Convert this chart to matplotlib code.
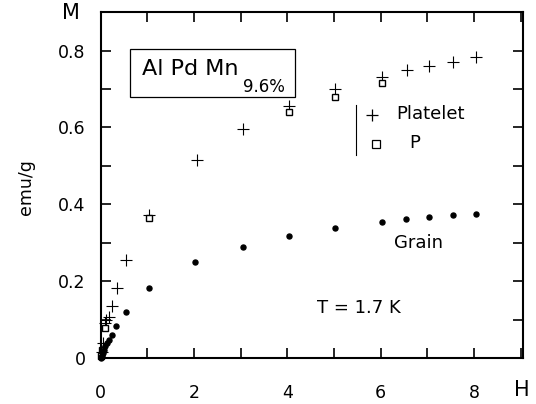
import matplotlib.pyplot as plt
import numpy as np
from matplotlib.patches import Rectangle
from matplotlib.ticker import MultipleLocator, FuncFormatter

plt.rcParams['font.family'] = ['DejaVu Sans']

# magnetisation M (emu/g) against field H
h_platelet = [0.02, 0.05, 0.1, 0.12, 0.17, 0.23, 0.35, 0.54, 1.03, 2.06, 3.05, 4.03, 5.02, 6.03, 6.57, 7.04, 7.55, 8.05]
m_platelet = [0.015, 0.04, 0.09, 0.10, 0.107, 0.135, 0.183, 0.254, 0.371, 0.514, 0.597, 0.655, 0.70, 0.73, 0.75, 0.76, 0.77, 0.782]

h_p = [0.0, 0.03, 0.1, 1.03, 4.03, 5.02, 6.03]
m_p = [0.005, 0.02, 0.078, 0.364, 0.64, 0.68, 0.715]

h_grain = [0.0, 0.01, 0.02, 0.04, 0.07, 0.1, 0.13, 0.17, 0.23, 0.32, 0.54, 1.03, 2.02, 3.05, 4.03, 5.02, 6.03, 6.55, 7.04, 7.55, 8.05]
m_grain = [0.0, 0.003, 0.006, 0.012, 0.02, 0.032, 0.038, 0.047, 0.06, 0.083, 0.119, 0.181, 0.25, 0.289, 0.317, 0.338, 0.354, 0.361, 0.367, 0.372, 0.374]

fig = plt.figure(figsize=(5.36, 4.04), dpi=100)
ax = fig.add_axes([0.188, 0.114, 0.788, 0.856])

ax.plot(h_platelet, m_platelet, linestyle='none', marker='+', color='black',
        markersize=8, markeredgewidth=0.8, clip_on=False)
ax.plot(h_p, m_p, linestyle='none', marker='s', color='black', markerfacecolor='white',
        markersize=5, markeredgewidth=1.0, clip_on=False)
ax.plot(h_grain, m_grain, linestyle='none', marker='o', color='black',
        markersize=3.6, clip_on=False)

ax.set_xlim(0, 9.05)
ax.set_ylim(0, 0.9)

ax.xaxis.set_major_locator(MultipleLocator(2))
ax.xaxis.set_minor_locator(MultipleLocator(1))
ax.yaxis.set_major_locator(MultipleLocator(0.2))
ax.yaxis.set_minor_locator(MultipleLocator(0.1))
ax.xaxis.set_major_formatter(FuncFormatter(lambda v, p: '%g' % v))
ax.yaxis.set_major_formatter(FuncFormatter(lambda v, p: '0' if abs(v) < 1e-9 else '%.1f' % v))

ax.tick_params(which='both', direction='in', top=True, right=True, length=7.5, width=1.2)
ax.tick_params(axis='x', which='major', pad=19, labelsize=12.5)
ax.tick_params(axis='y', which='major', pad=11, labelsize=12.5)
for s in ax.spines.values():
    s.set_linewidth(1.5)

# axis names
fig.text(71 / 536, 1 - 13 / 404, 'M', fontsize=15, ha='center', va='center')
fig.text(522 / 536, 1 - 390 / 404, 'H', fontsize=15, ha='center', va='center')
fig.text(26 / 536, 1 - 187 / 404, 'emu/g', fontsize=12.5, rotation=90, ha='center', va='center')

# sample label box
ax.add_patch(Rectangle((0.62, 0.678), 3.54, 0.125, facecolor='white', edgecolor='black', linewidth=0.9))
ax.text(0.88, 0.753, 'Al Pd Mn', fontsize=16, ha='left', va='center')
ax.text(3.04, 0.706, '9.6%', fontsize=12, ha='left', va='center')

# legend drawn by hand
ax.plot([5.47, 5.47], [0.527, 0.657], color='black', linewidth=0.8)
ax.plot([5.82], [0.631], linestyle='none', marker='+', color='black', markersize=8, markeredgewidth=0.9)
ax.text(6.33, 0.634, 'Platelet', fontsize=13, ha='left', va='center')
ax.plot([5.9], [0.558], linestyle='none', marker='s', color='black', markerfacecolor='white',
        markersize=6, markeredgewidth=0.9)
ax.text(6.6, 0.56, 'P', fontsize=13, ha='left', va='center')

ax.text(6.28, 0.299, 'Grain', fontsize=13, ha='left', va='center')
ax.text(4.63, 0.13, 'T = 1.7 K', fontsize=13, ha='left', va='center')

fig.savefig('out.png', dpi=100)
